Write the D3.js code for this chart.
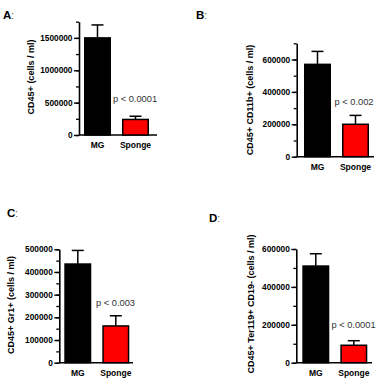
<!DOCTYPE html>
<html><head><meta charset="utf-8">
<script src="https://cdn.jsdelivr.net/npm/d3@7"></script>
<style>
html,body{margin:0;padding:0;background:#fff;}
svg{display:block;font-family:"Liberation Sans",Arial,sans-serif;}
</style></head>
<body>
<svg id="chart" width="379" height="386"></svg>
<script>
// ---- data ----
const categories = ["MG", "Sponge"];
const panelLetters = ["A", "B", "C", "D"];
const yTitles = ["CD45+ (cells / ml)", "CD45+ CD11b+ (cells / ml)", "CD45+ Gr1+ (cells / ml)", "CD45+ Ter119+ CD19- (cells / ml)"];
const meansA = [1500000, 240000];
const errA = [200000, 50000];
const meansB = [570000, 200000];
const errB = [80000, 55000];
const meansC = [435000, 162000];
const errC = [60000, 45000];
const meansD = [510000, 92000];
const errD = [65000, 24000];
const pLabels = ["p < 0.0001", "p < 0.002", "p < 0.003", "p < 0.0001"];
const yMax = [1750000, 700000, 500000, 600000];
const majorStep = [500000, 200000, 100000, 200000];
const minorStep = [250000, 100000, 50000, 100000];

const means = [meansA, meansB, meansC, meansD];
const errs = [errA, errB, errC, errD];

// ---- layout (pixels) ----
const layout = [
  {x0: 79,    yTop: 21.7,  y0: 135,   xEnd: 157, barL: 84,   letter: [3, 18.5],   title: [31, 77],   p: [135, 102]},
  {x0: 296.7, yTop: 43.3,  y0: 156.7, xEnd: 374, barL: 304,  letter: [196, 18.5], title: [250, 100], p: [354, 105]},
  {x0: 59.3,  yTop: 249.3, y0: 362.7, xEnd: 133, barL: 64.3, letter: [7, 217],    title: [10.5, 305], p: [115.5, 306]},
  {x0: 296.3, yTop: 249,   y0: 362.7, xEnd: 372, barL: 302.3,letter: [209, 222],  title: [251, 304], p: [353.5, 328]}
];

const svg = d3.select("#chart");
const colors = ["#000000", "#ff0000"];

layout.forEach((L, i) => {
  const g = svg.append("g");
  const y = d3.scaleLinear().domain([0, yMax[i]]).range([L.y0, L.yTop]);
  const x = d3.scaleBand().domain(categories).range([L.barL, L.barL + 65]).paddingInner(0.29).paddingOuter(0);

  // minor ticks
  const minorVals = d3.range(0, yMax[i] + 1, minorStep[i]);
  g.append("g").attr("transform", `translate(${L.x0},0)`)
    .call(d3.axisLeft(y).tickValues(minorVals).tickSize(3).tickFormat(""))
    .call(a => a.select(".domain").remove())
    .call(a => a.selectAll("line").attr("stroke-width", 1.3));

  // major axis
  const majorVals = d3.range(0, yMax[i] + 1, majorStep[i]);
  g.append("g").attr("transform", `translate(${L.x0},0)`)
    .call(d3.axisLeft(y).tickValues(majorVals).tickSize(5).tickSizeOuter(0).tickPadding(1.5).tickFormat(d3.format("d")))
    .call(a => a.select(".domain").attr("stroke-width", 1.6))
    .call(a => a.selectAll("line").attr("stroke-width", 1.4))
    .call(a => a.selectAll("text").attr("font-size", 8.3).attr("font-weight", "bold").attr("fill", "#000")
      .attr("font-family", "Liberation Sans, Arial, sans-serif"));

  // x axis line
  g.append("line").attr("x1", L.x0).attr("x2", L.xEnd).attr("y1", L.y0).attr("y2", L.y0)
    .attr("stroke", "#000").attr("stroke-width", 1.6);

  // bars
  categories.forEach((c, j) => {
    const top = y(means[i][j]);
    const errTop = y(means[i][j] + errs[i][j]);
    const cx = x(c) + x.bandwidth() / 2;
    g.append("line").attr("x1", cx).attr("x2", cx).attr("y1", top).attr("y2", errTop)
      .attr("stroke", "#000").attr("stroke-width", 1.5);
    g.append("line").attr("x1", cx - 6).attr("x2", cx + 6).attr("y1", errTop).attr("y2", errTop)
      .attr("stroke", "#000").attr("stroke-width", 1.5);
    g.append("rect").attr("x", x(c) + 0.75).attr("y", top).attr("width", x.bandwidth() - 1.5)
      .attr("height", L.y0 - top).attr("fill", colors[j]).attr("stroke", "#000").attr("stroke-width", 1.5);
    g.append("text").attr("x", cx).attr("y", L.y0 + 13).attr("text-anchor", "middle")
      .attr("font-size", 8.5).attr("font-weight", "bold").text(c);
  });

  // p label
  g.append("text").attr("x", L.p[0]).attr("y", L.p[1]).attr("text-anchor", "middle")
    .attr("font-size", 9.3).attr("fill", "#333").text(pLabels[i]);

  // y title
  g.append("text").attr("transform", `translate(${L.title[0]},${L.title[1]}) rotate(-90)`)
    .attr("text-anchor", "middle").attr("dy", "0.35em").attr("font-size", 9).attr("font-weight", "bold").text(yTitles[i]);

  // panel letter
  const lt = g.append("text").attr("x", L.letter[0]).attr("y", L.letter[1]);
  lt.append("tspan").attr("font-size", 11.5).attr("font-weight", "bold").text(panelLetters[i]);
  lt.append("tspan").attr("font-size", 10).attr("fill", "#555").text(":");
});
</script>
</body></html>
